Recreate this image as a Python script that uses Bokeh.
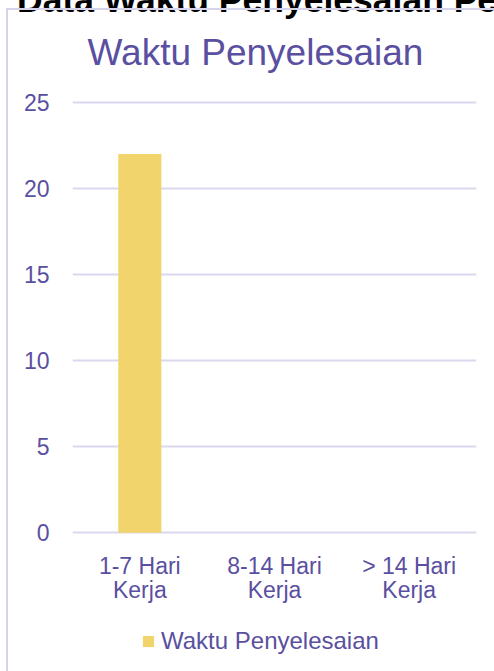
from bokeh.plotting import figure
from bokeh.models import Legend, LegendItem, Div, Range1d
from bokeh.layouts import column
from bokeh.embed import file_html
from bokeh.resources import INLINE

# ---- data ----
categories = ["1-7 Hari\nKerja", "8-14 Hari\nKerja", "> 14 Hari\nKerja"]
values = [22, 0, 0]
series_name = "Waktu Penyelesaian"
chart_title = "Waktu Penyelesaian"
page_heading = "Data Waktu Penyelesaian Pengaduan"
y_ticks = [0, 5, 10, 15, 20, 25]

TEXT = "#5a4fa0"
GRID = "#dad7ee"
BAR = "#f2d46c"
BORDER = "#d6d3ec"

# ---- main chart ----
p = figure(
    x_range=categories, y_range=(-0.1, 25.1),
    width=494, height=627,
    output_backend="svg", toolbar_location=None,
    min_border_left=72, min_border_right=18,
    min_border_top=100, min_border_bottom=93,
    title=chart_title,
)
p.outline_line_color = None
p.border_fill_color = None
p.background_fill_color = None
# chart box border: only its left and top edges are inside the window
p.styles = {
    "background": (
        f"linear-gradient({BORDER},{BORDER}) 6px 8px / 2px 100% no-repeat, "
        f"linear-gradient({BORDER},{BORDER}) 6px 8px / 100% 2px no-repeat"
    )
}

r = p.vbar(x=categories, top=values, width=0.32, fill_color=BAR, line_color=None)

p.title.align = "left"
p.title.offset = 15
p.title.standoff = 56
p.title.text_font = "Liberation Sans"
p.title.text_font_size = "37px"
p.title.text_font_style = "normal"
p.title.text_color = TEXT

p.xgrid.grid_line_color = None
p.ygrid.grid_line_color = GRID
p.ygrid.grid_line_width = 2
p.yaxis.ticker = y_ticks

for ax in (p.xaxis[0], p.yaxis[0]):
    ax.axis_line_color = None
    ax.major_tick_line_color = None
    ax.minor_tick_line_color = None
    ax.major_label_text_font = "Liberation Sans"
    ax.major_label_text_font_size = "23px"
    ax.major_label_text_color = TEXT

p.yaxis.major_label_standoff = 17
p.xaxis.major_label_standoff = 12
p.xaxis.major_label_text_line_height = 0.95
p.xaxis.major_label_orientation = "horizontal"

# ---- legend strip under the chart ----
lg = figure(
    width=494, height=44, x_axis_type=None, y_axis_type=None,
    x_range=Range1d(0, 1), y_range=Range1d(0, 1),
    output_backend="svg", toolbar_location=None, min_border=0,
)
lg.outline_line_color = None
lg.border_fill_color = None
lg.background_fill_color = None
lg.styles = {"background": f"linear-gradient({BORDER},{BORDER}) 6px 0 / 2px 100% no-repeat"}
# swatch holder for the legend key (its bar lies below the strip's visible range)
swatch = lg.vbar(x=[0.5], bottom=[-2], top=[-1], width=0.32, fill_color=BAR, line_color=None)

legend = Legend(
    items=[LegendItem(label=series_name, renderers=[swatch])],
    orientation="horizontal", location=(69, 16),
    glyph_width=14, glyph_height=14, label_standoff=6,
    padding=0, margin=0, spacing=0,
    border_line_color=None, background_fill_alpha=0,
    label_text_font="Liberation Sans", label_text_font_size="24px",
    label_text_color=TEXT,
)
lg.add_layout(legend)

# page heading above the chart, mostly scrolled out of the window
heading = Div(
    text=page_heading, width=494, height=42,
    margin=(-21, 0, -21, 17),
    styles={
        "font-family": "Liberation Sans", "font-weight": "bold",
        "font-size": "35.5px", "line-height": "42px", "color": "#000000",
        "white-space": "nowrap", "overflow": "hidden",
    },
)

layout = column(heading, p, lg)
open("out.html", "w").write(file_html(layout, INLINE))
